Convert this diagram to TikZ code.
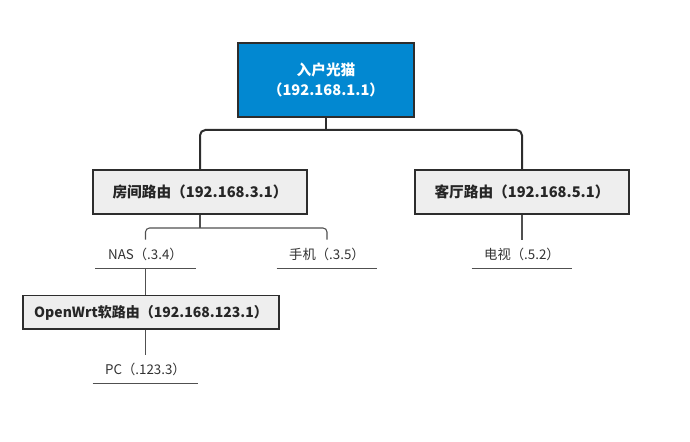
\documentclass[tikz,border=0pt]{standalone}
\usepackage{fontspec}
\setmainfont{Noto Sans CJK SC}
\usetikzlibrary{positioning}
\definecolor{modemblue}{RGB}{2,136,209}
\definecolor{boxgray}{RGB}{238,238,238}
\definecolor{edgegray}{RGB}{45,45,45}
\definecolor{linegray}{RGB}{80,80,80}
\definecolor{textgray}{RGB}{50,50,50}

\begin{document}
\begin{tikzpicture}[
        x=0.75pt, y=-0.75pt,
        modem/.style={rectangle, draw=edgegray, fill=modemblue, line width=1.5pt,
                      minimum width=132pt, minimum height=55.5pt, align=center,
                      text=white, font=\fontsize{11}{15}\selectfont\bfseries},
        router/.style={rectangle, draw=edgegray, fill=boxgray, line width=1.5pt,
                       minimum width=160pt, minimum height=33pt, align=center,
                       text=black!85, font=\fontsize{11}{13}\selectfont\bfseries},
        softrouter/.style={router, line width=1pt, minimum width=192pt, minimum height=25pt,
                           font=\fontsize{10.5}{12}\selectfont\bfseries},
        leaf/.style={rectangle, inner sep=0pt, minimum width=75pt, minimum height=21pt,
                     text=textgray, font=\fontsize{10}{12}\selectfont},
        trunk/.style={line width=1.5pt, edgegray, rounded corners=4pt},
        branch/.style={line width=0.8pt, linegray, rounded corners=3pt},
        underline/.style={line width=0.8pt, linegray},
    ]
    \useasboundingbox (0,0) rectangle (690,442);

    % ---- Top: modem ----
    \node[modem] (modem) at (326,80) {入户光猫\\（192.168.1.1）};

    % ---- Second row: routers ----
    \node[router] (room) at (200,192) {房间路由（192.168.3.1）};
    \node[router] (hall) at (522,192) {客厅路由（192.168.5.1）};

    % ---- Devices ----
    \node[leaf] (nas) at (145.5,254) {NAS（.3.4）};
    \node[leaf] (phone) at (327,254) {手机（.3.5）};
    \node[leaf] (tv) at (522,254) {电视（.5.2）};
    \node[softrouter] (openwrt) at (151,312.5) {OpenWrt软路由（192.168.123.1）};
    \node[leaf, minimum width=79pt] (pc) at (145.5,369) {PC（.123.3）};

    \foreach \n in {nas,phone,tv,pc} {
        \draw[underline] (\n.south west) -- (\n.south east);
    }

    % ---- Connectors ----
    \coordinate (busTop) at (326,130);
    \coordinate (busRoom) at (200,228);
    \draw[trunk] (modem.south) -- (busTop);
    \draw[trunk] (room.north) |- (hall.north |- busTop) -- (hall.north);
    \draw[branch] (room.south) -- (busRoom);
    \draw[branch] (nas.north) |- (phone.north |- busRoom) -- (phone.north);
    \draw[branch] (hall.south) -- (tv.north);
    \draw[branch] (nas.south) -- (nas.south |- openwrt.north);
    \draw[branch] (openwrt.south -| pc.north) -- (pc.north);

\end{tikzpicture}
\end{document}
